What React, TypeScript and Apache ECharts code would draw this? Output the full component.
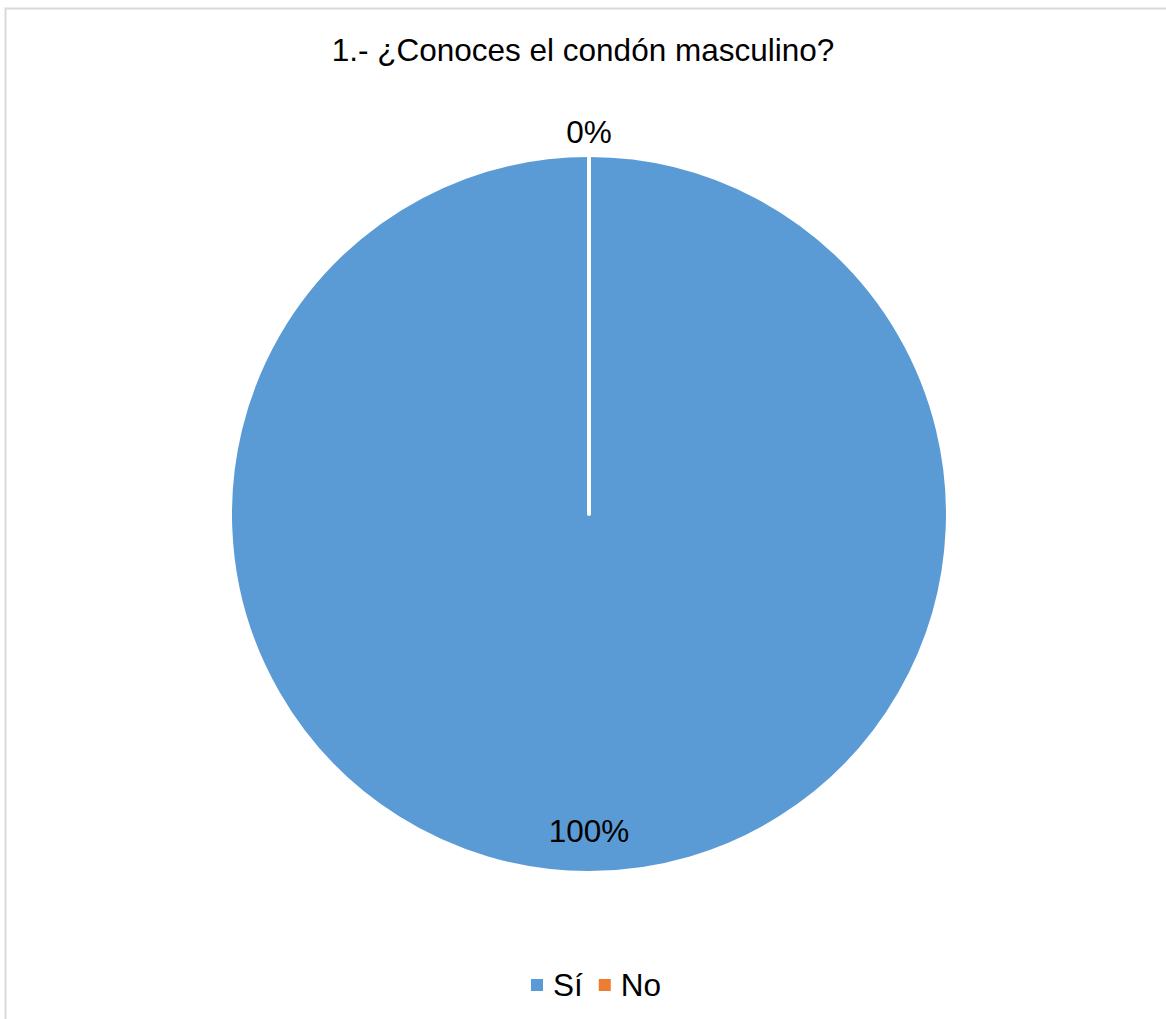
import React, { useEffect, useRef } from "react";
import * as echarts from "echarts";

const titleText = "1.- ¿Conoces el condón masculino?";
const categories = ["Sí", "No"];
const values = [100, 0];
const colors = ["#5B9BD5", "#ED7D31"];

const FONT = "'Liberation Sans', Arial, sans-serif";

export default function App() {
  const ref = useRef<HTMLDivElement>(null);

  useEffect(() => {
    if (!ref.current) return;
    const chart = echarts.init(ref.current, null, { renderer: "svg" });
    const total = values.reduce((a, b) => a + b, 0);
    chart.setOption({
      animation: false,
      backgroundColor: "#ffffff",
      title: {
        text: titleText,
        left: "center",
        top: 29,
        textStyle: {
          fontFamily: FONT,
          fontSize: 31.5,
          fontWeight: "normal",
          color: "#000000",
        },
      },
      legend: {
        data: categories,
        top: 964,
        left: 526,
        icon: "rect",
        itemWidth: 12,
        itemHeight: 12,
        itemGap: 16,
        itemStyle: { borderWidth: 0 },
        textStyle: {
          fontFamily: FONT,
          fontSize: 31.5,
          color: "#000000",
          padding: [0, 0, 0, 5],
        },
      },
      graphic: [
        {
          type: "rect",
          shape: { x: 5.5, y: 8.5, width: 1200, height: 1100 },
          style: { fill: "none", stroke: "#d9d9d9", lineWidth: 2 },
          silent: true,
        },
      ],
      series: [
        {
          type: "pie",
          center: [589, 514],
          radius: 359,
          startAngle: 90,
          clockwise: true,
          avoidLabelOverlap: false,
          data: categories.map((c, i) => ({
            name: c,
            value: values[i],
            itemStyle: { color: colors[i] },
          })),
          itemStyle: { borderColor: "#ffffff", borderWidth: 4 },
          label: {
            show: true,
            position: "outside",
            formatter: (p: any) =>
              Math.round((p.value / total) * 100) + "%",
            fontFamily: FONT,
            fontSize: 31.5,
            color: "#000000",
          },
          labelLine: { show: false },
          labelLayout: (p: any) => {
            const r = p.rect;
            if (p.dataIndex === 0) {
              return {
                x: r.x + r.width / 2,
                y: r.y + r.height * 0.939,
                align: "center",
                verticalAlign: "middle",
              };
            }
            return {
              x: r.x + r.width / 2,
              y: r.y - 21,
              align: "center",
              verticalAlign: "middle",
            };
          },
          emphasis: { disabled: true },
        },
      ],
    });
    return () => chart.dispose();
  }, []);

  return (
    <div
      ref={ref}
      style={{ position: "absolute", left: 0, top: 0, width: 1166, height: 1019 }}
    />
  );
}
